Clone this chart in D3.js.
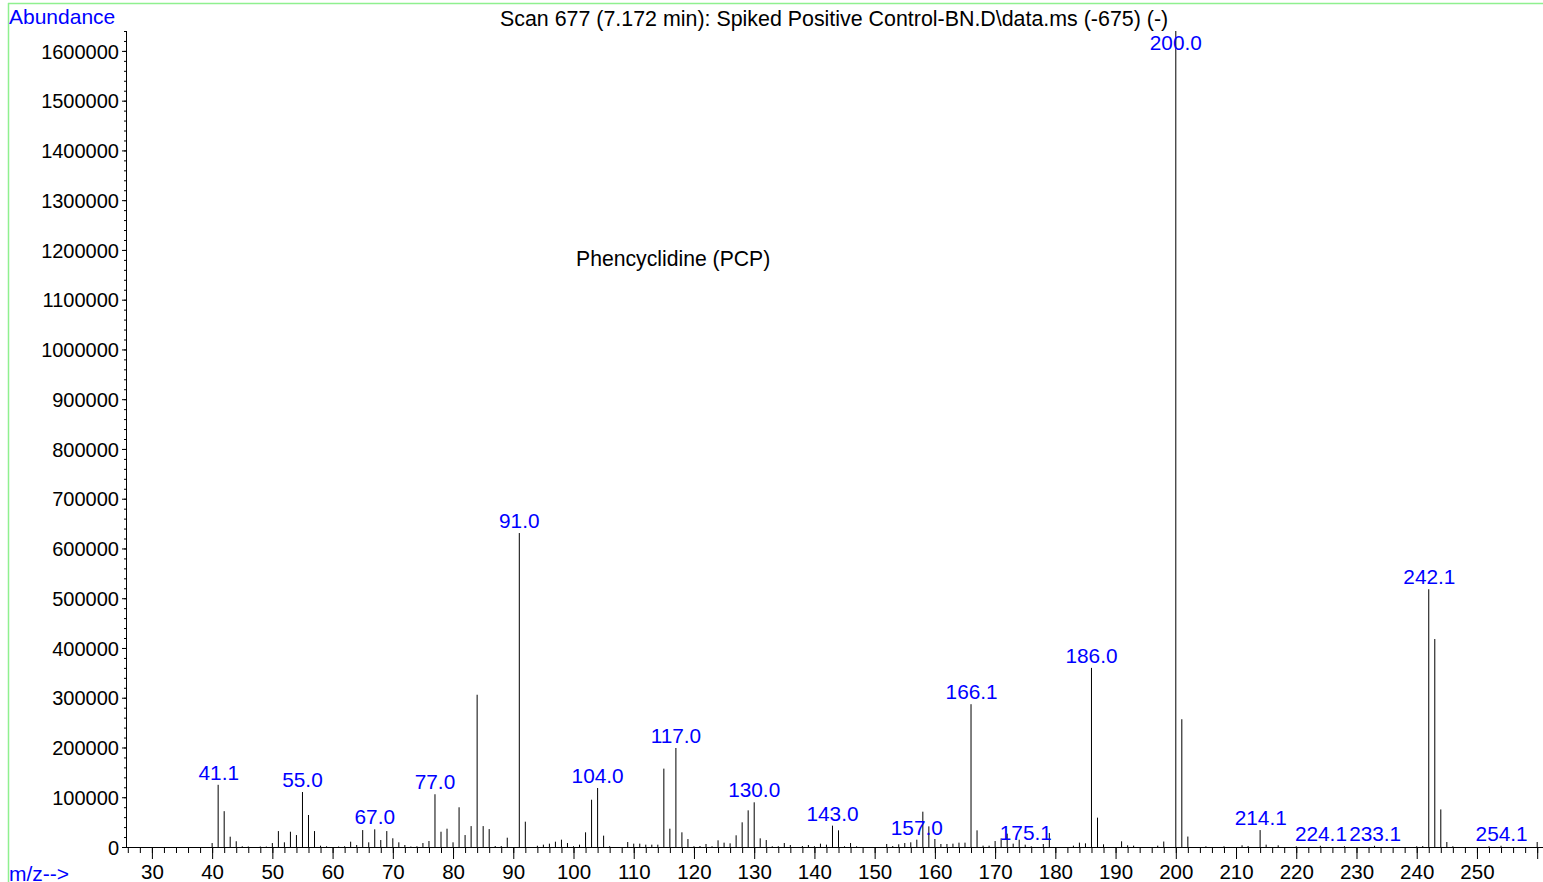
<!DOCTYPE html>
<html>
<head>
<meta charset="utf-8">
<script src="https://cdnjs.cloudflare.com/ajax/libs/d3/7.8.5/d3.min.js"></script>
<style>
  body { margin: 0; background: #fff; }
  svg { display: block; font-family: "Liberation Sans", Arial, Helvetica, sans-serif; }
  .tick line { stroke: #000; }
  .tick text { fill: #000; }
</style>
</head>
<body>
<div id="chart"></div>
<script>
// peak list (m/z, abundance)
var peakMz = [40, 41, 42, 43, 44, 45, 46, 48, 49, 50, 51, 52, 53, 54, 55, 56, 57, 58, 59, 61, 62, 63, 64, 65, 66, 67, 68, 69, 70,
  71, 72, 73, 74, 75, 76, 77, 78, 79, 80, 81, 82, 83, 84, 85, 86, 87, 88, 89, 91, 92, 94, 95, 96, 97, 98, 99, 100,
  101, 102, 103, 104, 105, 106, 109, 110, 111, 112, 113, 114, 115, 116, 117, 118, 119, 120, 121, 122, 123, 124, 125, 126, 127, 128, 129, 130,
  131, 132, 133, 134, 135, 136, 138, 139, 140, 141, 142, 143, 144, 145, 146, 147, 152, 153, 154, 155, 156, 157, 158, 159, 160,
  161, 162, 163, 164, 165, 166, 167, 168, 169, 170, 171, 172, 173, 174, 175, 176, 178, 179, 183, 184, 185, 186, 187, 188,
  191, 192, 193, 197, 198, 200, 201, 202, 205, 208, 211, 212, 214, 215, 217, 220, 224, 228, 233, 240, 241, 242, 243, 244, 245, 246, 252, 254];

var peakAbundance = [8000, 125000, 72000, 20700, 11500, 1500, 1000, 1000, 1000, 8000, 32000, 9400, 30700, 24000, 110500, 64300, 32000, 2600, 1500, 1000, 1500, 10700, 4000, 34000, 9400, 35500, 14000, 32000, 17500,
  9400, 4000, 1000, 1500, 8000, 12000, 106000, 30700, 36800, 9400, 79800, 24000, 42000, 306000, 42000, 36000, 2000, 2000, 18700, 631000, 50900, 2500, 4700, 6700, 10700, 14700, 8000, 1500,
  4700, 29500, 95000, 118600, 22800, 1500, 10000, 6700, 6700, 4700, 4700, 4700, 157500, 36800, 199000, 29500, 16000, 1500, 2000, 6000, 1500, 13400, 8700, 7400, 23500, 49600, 73700, 89800,
  17400, 14000, 1500, 1500, 8000, 4000, 2000, 4000, 1500, 6700, 4700, 42900, 33500, 1500, 8000, 1500, 6000, 2000, 5400, 8000, 9400, 14700, 71000, 41500, 16000,
  6000, 6000, 6700, 8700, 8700, 287000, 33500, 2700, 2700, 12000, 17400, 26800, 6700, 14700, 4700, 1500, 6000, 28100, 2700, 8700, 7400, 360000, 59000, 5400,
  11400, 3400, 2700, 2700, 11000, 1640000, 256800, 21000, 1500, 1500, 3400, 2000, 34000, 4700, 3400, 1500, 2500, 1500, 2500, 1500, 2000, 518000, 418000, 75500, 10000, 1500, 1500, 2500];

var labelMz = ["41.1", "55.0", "67.0", "77.0", "91.0", "104.0", "117.0", "130.0", "143.0", "157.0", "166.1", "175.1",
  "186.0", "200.0", "214.1", "224.1", "233.1", "242.1", "254.1"];

var yMajorTicks = d3.range(0, 1600001, 100000);
var yMinorTicks = d3.range(0, 1640001, 20000);
var xMajorTicks = d3.range(30, 261, 10);
var xMinorTicks = d3.range(26, 261, 2);

var titleText = "Scan 677 (7.172 min): Spiked Positive Control-BN.D\\data.ms (-675) (-)";
var compoundText = "Phencyclidine (PCP)";

var width = 1543, height = 882;

var x = d3.scaleLinear()
    .domain([25.7, 261.05])
    .range([126, 1543.5]);

var y = d3.scaleLinear()
    .domain([0, 1640000])
    .range([847, 31]);

var svg = d3.select("#chart").append("svg")
    .attr("width", width)
    .attr("height", height);

// light green frame (top and left)
svg.append("line")
    .attr("x1", 8).attr("x2", width)
    .attr("y1", 3.5).attr("y2", 3.5)
    .style("stroke", "#8ff08f").style("stroke-width", 1.5);
svg.append("line")
    .attr("x1", 8.5).attr("x2", 8.5)
    .attr("y1", 3).attr("y2", height)
    .style("stroke", "#8ff08f").style("stroke-width", 1.5);

// y axis
svg.append("g")
    .attr("transform", "translate(" + x.range()[0] + ",0)")
    .call(d3.axisLeft(y).tickValues(yMinorTicks).tickSize(2).tickFormat(""))
    .call(function(g) { g.select(".domain").remove(); });

svg.append("g")
    .attr("class", "y axis")
    .attr("transform", "translate(" + x.range()[0] + ",0)")
    .call(d3.axisLeft(y).tickValues(yMajorTicks).tickSize(4).tickPadding(3).tickFormat(d3.format("d")))
    .call(function(g) {
      g.select(".domain").remove();
      g.selectAll("text").style("font-size", "20px").attr("dy", "0.36em");
    });

svg.append("line")
    .attr("x1", x.range()[0] + 0.5).attr("x2", x.range()[0] + 0.5)
    .attr("y1", y.range()[1]).attr("y2", y(0))
    .style("stroke", "#000");

// x axis
svg.append("g")
    .attr("transform", "translate(0," + y(0) + ")")
    .call(d3.axisBottom(x).tickValues(xMinorTicks).tickSize(6).tickFormat(""))
    .call(function(g) { g.select(".domain").remove(); });

svg.append("g")
    .attr("class", "x axis")
    .attr("transform", "translate(0," + y(0) + ")")
    .call(d3.axisBottom(x).tickValues(xMajorTicks).tickSize(12).tickPadding(5)
      .tickFormat(function(d) { return d <= 250 ? d : ""; }))
    .call(function(g) {
      g.select(".domain").remove();
      g.selectAll("text").style("font-size", "20.5px");
    });

// end mark at 260 pokes above the axis
svg.append("line")
    .attr("x1", x(260)).attr("x2", x(260))
    .attr("y1", y(0) - 5).attr("y2", y(0))
    .style("stroke", "#000");

svg.append("line")
    .attr("x1", x.range()[0]).attr("x2", width)
    .attr("y1", y(0) + 0.5).attr("y2", y(0) + 0.5)
    .style("stroke", "#000");

// spectrum sticks
svg.selectAll(".peak")
    .data(peakMz)
  .enter().append("line")
    .attr("class", "peak")
    .attr("x1", function(d) { return x(d); })
    .attr("x2", function(d) { return x(d); })
    .attr("y1", y(0))
    .attr("y2", function(d, i) { return y(peakAbundance[i]); })
    .style("stroke", "#000")
    .style("stroke-width", 1);

// peak labels
function peakTop(m) {
  var i = peakMz.indexOf(Math.round(+m));
  return y(i < 0 ? 0 : peakAbundance[i]);
}

svg.selectAll(".plabel")
    .data(labelMz)
  .enter().append("text")
    .attr("class", "plabel")
    .attr("x", function(d) { return x(+d); })
    .attr("y", function(d) { return Math.max(peakTop(d) - 5, 50); })
    .attr("text-anchor", "middle")
    .style("font-size", "20.8px")
    .style("fill", "#0000ff")
    .text(function(d) { return d; });

// texts
svg.append("text")
    .attr("x", 9).attr("y", 24)
    .style("font-size", "21px")
    .style("fill", "#0000ff")
    .text("Abundance");

svg.append("text")
    .attr("x", 9).attr("y", 881)
    .style("font-size", "21px")
    .style("fill", "#0000ff")
    .text("m/z-->");

svg.append("text")
    .attr("x", 500).attr("y", 26)
    .style("font-size", "21.4px")
    .style("fill", "#000")
    .text(titleText);

svg.append("text")
    .attr("x", 576).attr("y", 266)
    .style("font-size", "21.2px")
    .style("fill", "#000")
    .text(compoundText);
</script>
</body>
</html>
